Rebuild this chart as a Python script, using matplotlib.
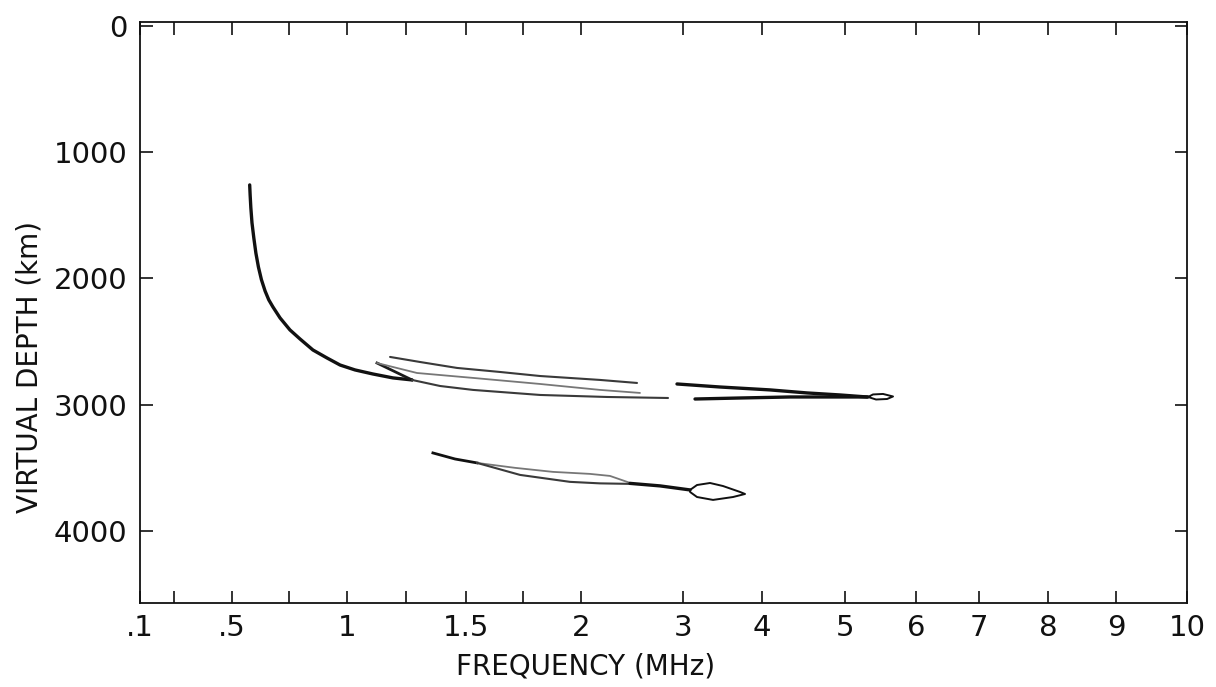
#!/usr/bin/env python3
"""
Ionograma: profundidad virtual frente a frecuencia (escala de frecuencia no lineal)
"""

import matplotlib
matplotlib.use('Agg')
import matplotlib.pyplot as plt
import numpy as np

# escala del eje de frecuencia tal como viene impresa (valor -> avance relativo)
freq_stops = [0.1, 0.5, 1, 1.5, 2, 3, 4, 5, 6, 7, 8, 9, 10]
axis_stops = [0, 92, 207, 326, 441, 543, 622, 705, 776, 839, 908, 976, 1047]

x_ticks = [0.1, 0.5, 1, 1.5, 2, 3, 4, 5, 6, 7, 8, 9, 10]
x_labels = ['.1', '.5', '1', '1.5', '2', '3', '4', '5', '6', '7', '8', '9', '10']
x_minor = [0.25, 0.75, 1.25, 1.75]
y_ticks = [0, 1000, 2000, 3000, 4000]

# traza principal (MHz, km)
main_f = [0.577, 0.579, 0.582, 0.587, 0.595, 0.604, 0.615, 0.628, 0.644, 0.660,
          0.678, 0.709, 0.752, 0.796, 0.852, 0.913, 0.970, 1.034, 1.109, 1.193, 1.273]
main_d = [1260, 1340, 1440, 1560, 1680, 1800, 1910, 2010, 2100, 2170,
          2226, 2313, 2408, 2480, 2567, 2630, 2686, 2725, 2757, 2788, 2804]

hook_f = [1.273, 1.126]
hook_d = [2804, 2670]

upper_f = [1.181, 1.307, 1.462, 1.648, 1.822, 2.186, 2.549]
upper_d = [2622, 2662, 2709, 2741, 2773, 2804, 2828]

middle_f = [1.126, 1.294, 1.530, 1.822, 2.186, 2.578]
middle_d = [2670, 2749, 2788, 2836, 2883, 2907]

lower_f = [1.273, 1.391, 1.530, 1.822, 2.255, 2.853]
lower_d = [2804, 2852, 2883, 2923, 2939, 2947]

# tramo de la derecha (~3000 km)
right_up_f = [2.941, 3.468, 4.096, 4.542, 4.940, 5.310]
right_up_d = [2836, 2860, 2883, 2907, 2923, 2939]
right_lo_f = [3.152, 3.722, 4.337, 4.819, 5.169, 5.324]
right_lo_d = [2955, 2947, 2939, 2939, 2939, 2939]
right_loop_f = [5.324, 5.394, 5.535, 5.676, 5.592, 5.437, 5.324]
right_loop_d = [2939, 2919, 2915, 2935, 2955, 2959, 2939]

# traza inferior (~3500 km)
stem_f = [1.361, 1.454, 1.548]
stem_d = [3382, 3430, 3461]
branch_a_f = [1.548, 1.713, 1.878, 2.088, 2.284, 2.480]
branch_a_d = [3461, 3500, 3532, 3548, 3564, 3619]
branch_b_f = [1.548, 1.735, 1.952, 2.186, 2.480]
branch_b_d = [3461, 3556, 3611, 3623, 3627]
merged_f = [2.480, 2.775, 3.089]
merged_d = [3623, 3643, 3675]
loop_f = [3.089, 3.177, 3.342, 3.506, 3.722, 3.785, 3.633, 3.380, 3.177, 3.089, 3.089]
loop_d = [3675, 3636, 3620, 3644, 3691, 3707, 3731, 3754, 3731, 3691, 3675]


def fwd(x):
    return np.interp(x, freq_stops, axis_stops)


def inv(p):
    return np.interp(p, axis_stops, freq_stops)


def create_plot():
    plt.rcParams['font.family'] = ['DejaVu Sans']
    fig = plt.figure(figsize=(12.16, 6.87), dpi=100)
    ax = fig.add_axes([0.1151, 0.1223, 0.8611, 0.8457])

    ax.set_xscale('function', functions=(fwd, inv))
    ax.set_xlim(0.1, 10)
    ax.set_ylim(4570, -30)

    heavy = dict(color='#111111', lw=2.4, solid_capstyle='round', solid_joinstyle='round')
    faint = dict(color='#3a3a3a', lw=1.5, solid_capstyle='round')
    pale = dict(color='#777777', lw=1.3, solid_capstyle='round')

    ax.plot(main_f, main_d, **heavy)
    ax.plot(hook_f, hook_d, color='#1a1a1a', lw=2.0)
    ax.plot(upper_f, upper_d, **faint)
    ax.plot(middle_f, middle_d, **pale)
    ax.plot(lower_f, lower_d, **faint)

    ax.plot(right_up_f, right_up_d, **heavy)
    ax.plot(right_lo_f, right_lo_d, **heavy)
    ax.plot(right_loop_f, right_loop_d, color='#111111', lw=1.4)

    ax.plot(stem_f, stem_d, color='#111111', lw=2.0)
    ax.plot(branch_a_f, branch_a_d, **pale)
    ax.plot(branch_b_f, branch_b_d, **faint)
    ax.plot(merged_f, merged_d, **heavy)
    ax.plot(loop_f, loop_d, color='#111111', lw=1.4)

    ax.set_xticks(x_ticks)
    ax.set_xticklabels(x_labels)
    ax.set_xticks(x_minor, minor=True)
    ax.set_yticks(y_ticks)
    ax.set_yticklabels([str(v) for v in y_ticks])

    ax.tick_params(axis='both', which='both', direction='in', length=9, width=1.2,
                   top=True, right=True, labelsize=21, colors='#111111')
    ax.tick_params(axis='x', which='both', pad=8)
    ax.tick_params(axis='y', pad=9)
    for s in ax.spines.values():
        s.set_linewidth(1.3)
        s.set_color('#111111')

    fig.text(586 / 1216, 1 - 667 / 687, 'FREQUENCY (MHz)', ha='center', va='center',
             fontsize=20, color='#111111')
    fig.text(30 / 1216, 1 - 367 / 687, 'VIRTUAL DEPTH (km)', ha='center', va='center',
             rotation=90, fontsize=20, color='#111111')

    fig.savefig('out.png', dpi=100)


if __name__ == "__main__":
    create_plot()
